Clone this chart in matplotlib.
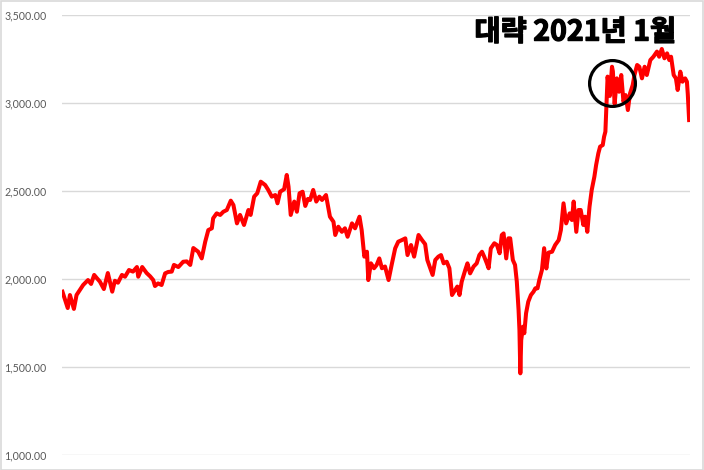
import matplotlib
matplotlib.use("Agg")
import matplotlib.pyplot as plt
import matplotlib.patheffects as pe
from matplotlib.patches import Rectangle
from matplotlib.ticker import FuncFormatter

# trading-day index (approx., from Jan 2016) and index level
days = [1, 13, 18, 27, 33, 41, 48, 59, 66, 73, 79, 86, 95, 104, 114, 120, 127, 136, 143, 152,
        161, 170, 173, 182, 192, 200, 207, 211, 218, 226, 234, 241, 249, 254, 264, 275, 283, 291, 298, 309,
        317, 325, 332, 340, 343, 351, 359, 366, 374, 383, 389, 397, 404, 413, 423, 428, 436, 443, 451, 461,
        468, 476, 484, 489, 495, 504, 510, 514, 519, 527, 533, 539, 546, 552, 558, 563, 570, 577, 584, 590,
        599, 608, 616, 620, 627, 635, 642, 648, 658, 665, 675, 680, 686, 692, 695, 701, 708, 714, 720, 726,
        733, 741, 748, 756, 763, 771, 779, 784, 792, 799, 809, 817, 824, 829, 837, 841, 847, 854, 860, 866,
        873, 879, 885, 892, 897, 902, 907, 915, 920, 926, 934, 941, 947, 953, 958, 964, 968, 973, 981, 987,
        993, 998, 1002, 1008, 1013, 1017, 1023, 1028, 1032, 1036, 1038, 1040, 1042, 1046, 1049, 1053, 1058, 1064, 1070, 1074,
        1079, 1083, 1089, 1094, 1099, 1104, 1112, 1119, 1127, 1132, 1138, 1144, 1152, 1157, 1161, 1167, 1172, 1177, 1183, 1187,
        1192, 1197, 1202, 1208, 1212, 1217, 1221, 1227, 1230, 1233, 1235, 1238, 1243, 1248, 1250, 1254, 1259, 1264, 1269, 1274,
        1279, 1284, 1289, 1295, 1299, 1305, 1310, 1316, 1322, 1327, 1335, 1342, 1350, 1355, 1361, 1367, 1373, 1378, 1382, 1388,
        1393, 1397, 1403, 1408, 1414, 1418, 1420, 1423]
values = [1928, 1835, 1909, 1830, 1909, 1940, 1966, 1994, 1972, 2023, 2005, 1985, 1943, 2034, 1928, 1990, 1979, 2023, 2013, 2051,
          2042, 2068, 2013, 2068, 2034, 2015, 1994, 1960, 1975, 1966, 2032, 2040, 2042, 2080, 2068, 2098, 2100, 2080, 2176, 2155,
          2117, 2212, 2278, 2288, 2345, 2373, 2364, 2382, 2392, 2445, 2420, 2316, 2364, 2307, 2392, 2364, 2468, 2487, 2553, 2534,
          2506, 2468, 2477, 2430, 2496, 2510, 2591, 2525, 2364, 2440, 2382, 2487, 2496, 2415, 2455, 2449, 2506, 2440, 2468, 2449,
          2477, 2354, 2325, 2250, 2297, 2268, 2288, 2240, 2316, 2288, 2354, 2278, 2127, 2155, 1994, 2089, 2061, 2080, 2117, 2061,
          2071, 1994, 2080, 2174, 2212, 2221, 2231, 2136, 2193, 2127, 2250, 2221, 2198, 2108, 2051, 2023, 2108, 2127, 2136, 2089,
          2098, 2061, 1909, 1937, 1957, 1909, 1985, 2051, 2089, 2032, 2071, 2089, 2136, 2155, 2127, 2089, 2061, 2174, 2203, 2193,
          2146, 2250, 2259, 2117, 2231, 2231, 2108, 2080, 1985, 1824, 1710, 1464, 1653, 1729, 1692, 1805, 1871, 1909, 1928, 1947,
          1947, 1994, 2051, 2175, 2060, 2150, 2155, 2193, 2221, 2278, 2430, 2316, 2373, 2335, 2440, 2268, 2392, 2392, 2307, 2354,
          2268, 2411, 2506, 2581, 2648, 2714, 2752, 2761, 2808, 2837, 2960, 3150, 3040, 3206, 3180, 2995, 3140, 3064, 3159, 3007,
          3045, 2960, 3055, 3102, 3159, 3216, 3206, 3140, 3206, 3159, 3244, 3263, 3292, 3263, 3307, 3254, 3282, 3244, 3263, 3159,
          3140, 3074, 3178, 3121, 3140, 3121, 3050, 2903]

y_ticks = [1000, 1500, 2000, 2500, 3000, 3500]
annot_text = "대략 2021년 1월"
circle_day = 1248
circle_val = 3112

fig = plt.figure(figsize=(7.04, 4.70), dpi=100)
fig.patch.set_facecolor("white")
ax = fig.add_axes([62 / 704, 15 / 470, (690 - 62) / 704, 440 / 470])

ax.plot(days, values, color="#FF0000", lw=2.9, solid_joinstyle="round", zorder=3)

ax.set_ylim(1000, 3500)
ax.set_xlim(0, 1425)
ax.set_yticks(y_ticks)
ax.yaxis.set_major_formatter(FuncFormatter(lambda v, p: f"{v:,.2f}"))
ax.grid(axis="y", color="#D9D9D9", lw=1)
ax.set_axisbelow(True)
ax.set_xticks([])
ax.tick_params(axis="y", length=0, pad=11, labelsize=7.7, labelcolor="#595959")
for lab in ax.get_yticklabels():
    lab.set_family(["Lato", "DejaVu Sans"])
for s in ax.spines.values():
    s.set_visible(False)

# circle highlight
ax.plot([circle_day], [circle_val], marker="o", markersize=33, markerfacecolor="none",
        markeredgecolor="black", markeredgewidth=2.3, zorder=4)

ax.text(1165, 3400, annot_text, ha="center", va="center", fontsize=20.5,
        family=["Noto Sans CJK KR", "DejaVu Sans"], weight="black", color="black",
        path_effects=[pe.withStroke(linewidth=0.9, foreground="black")], zorder=5)

fig.patches.append(Rectangle((0.001, 0.001), 0.998, 0.997, transform=fig.transFigure,
                             fill=False, edgecolor="#D9D9D9", lw=1.2))

fig.savefig("out.png", dpi=100)
